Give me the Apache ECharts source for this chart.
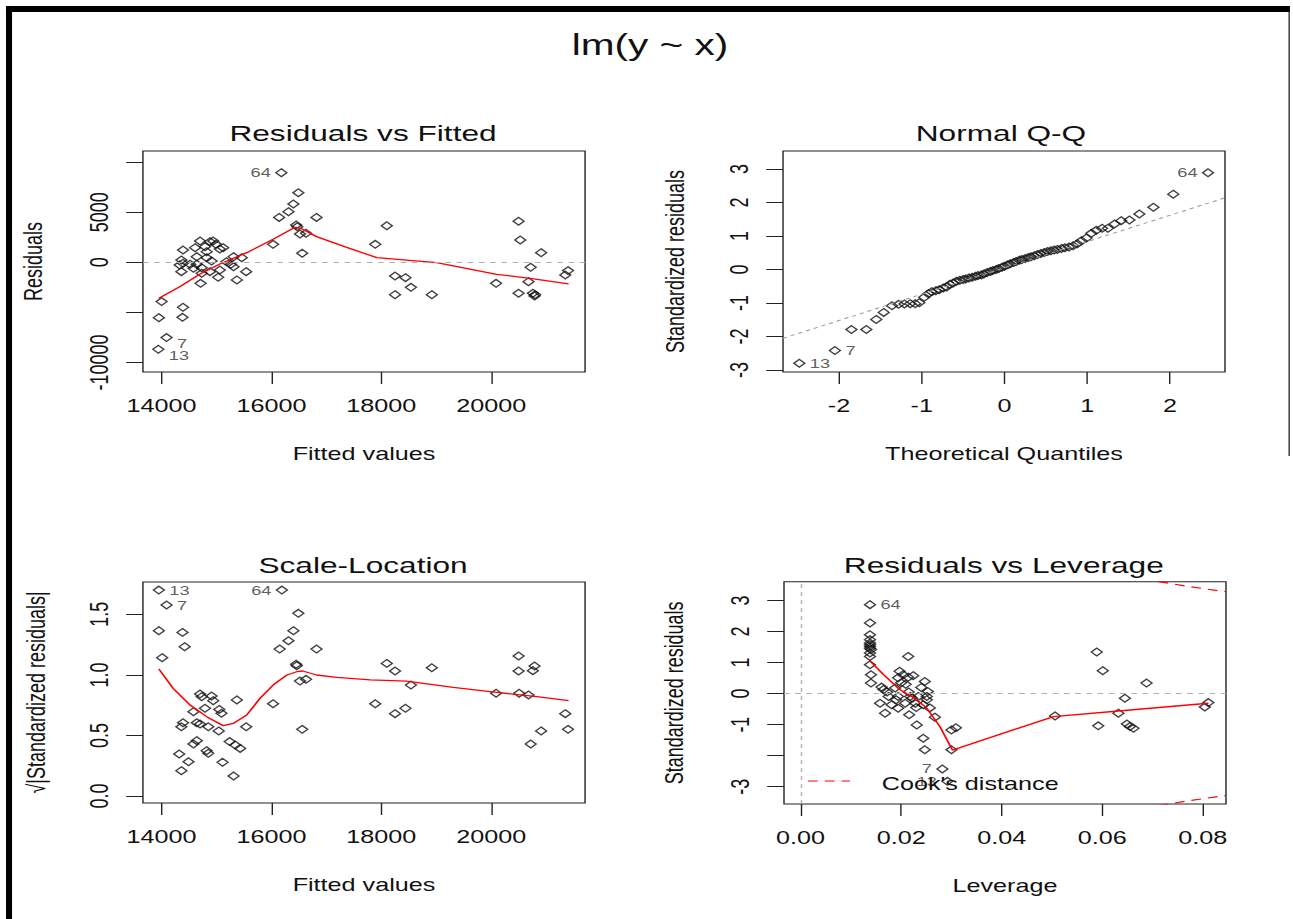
<!DOCTYPE html>
<html><head><meta charset="utf-8">
<script src="https://cdn.jsdelivr.net/npm/echarts@6/dist/echarts.min.js"></script>
<style>
html,body{margin:0;padding:0;background:#fff;overflow:hidden;width:1293px;height:919px}
#main{width:923.57px;height:919px;transform:scaleX(1.4);transform-origin:0 0;}
</style>
</head><body><div id="main"></div>
<script>
// ---------- DATA ----------
const fittedTicks = [14000, 16000, 18000, 20000];
const residTicks = [-10000, -5000, 0, 5000, 10000];
const residLabels = [-10000, 0, 5000];
const quantTicks = [-2, -1, 0, 1, 2];
const stdTicks = [-3, -2, -1, 0, 1, 2, 3];
const stdLabelsLev = [-3, -1, 0, 1, 2, 3];
const sqrtTicks = [0, 0.5, 1, 1.5];
const levTicks = [0, 0.02, 0.04, 0.06, 0.08];

// Residuals vs Fitted
const rvfPts = [
  [16490,6940],[16400,5810],[16310,5050],[16140,4480],[16820,4480],[16450,3720],[16470,3550],[16520,2820],[16630,2890],[16560,900],
  [16030,1790],[18100,3650],[17890,1790],[18250,-1370],[18440,-1530],[18540,-2500],[18250,-3230],[18920,-3230],[20500,4090],[20530,2220],
  [20910,960],[20720,-500],[20680,-1930],[20090,-2100],[20500,-3090],[20760,-3090],[20790,-3360],[20800,-3230],[21400,-830],[21350,-1270],
  [14000,-3920],[13950,-5520],[14390,-4490],[14380,-5490],
  [14390,1230],[14700,2120],[14610,1460],[14790,1560],[14880,2060],[14940,2120],[14990,1790],[14820,1060],[15060,1330],[15120,1460],
  [14640,560],[14820,460],[14360,230],[14330,-270],[14390,-100],[14520,-200],[14640,-200],[14360,-930],[14730,-540],[14880,-930],
  [15060,-770],[15030,-1500],[14710,-2100],[15310,560],[15460,460],[15260,-200],[15310,-440],[15370,-1760],[15540,-930],[14730,-1100],
  [15180,60],[14910,130],[14580,-600]
];
const rvfIds = [['64',16180,8940],['7',14090,-7510],['13',13940,-8680]];
const rvfSmooth = [[13950,-3590],[14330,-2430],[14700,-1170],[15060,-170],[15550,960],[16030,2290],[16430,3490],[16550,3350],
  [16820,2560],[17370,1490],[17920,460],[19010,-40],[20100,-1200],[20710,-1600],[21410,-2160]];

// Normal Q-Q
const qqPts = [
  [-1.85,-1.79],[-1.67,-1.79],[-1.55,-1.49],[-1.46,-1.28],[-1.36,-1.08],[-1.28,-1.04],[-1.21,-1.03],[-1.14,-1.02],[-1.08,-1.02],[-1.03,-0.99],
  [-0.97,-0.83],[-0.92,-0.72],[-0.88,-0.66],[-0.83,-0.63],[-0.79,-0.60],[-0.74,-0.55],[-0.70,-0.52],[-0.66,-0.44],[-0.62,-0.40],[-0.58,-0.35],
  [-0.54,-0.32],[-0.50,-0.30],[-0.47,-0.28],[-0.43,-0.25],[-0.39,-0.23],[-0.35,-0.20],[-0.32,-0.18],[-0.28,-0.16],[-0.25,-0.13],[-0.21,-0.09],
  [-0.17,-0.06],[-0.14,-0.03],[-0.10,0.00],[-0.07,0.03],[-0.03,0.07],[0.00,0.10],[0.04,0.14],[0.07,0.17],[0.11,0.21],[0.14,0.24],
  [0.18,0.28],[0.21,0.30],[0.25,0.33],[0.29,0.36],[0.32,0.38],[0.36,0.41],[0.40,0.45],[0.44,0.48],[0.48,0.51],[0.52,0.54],
  [0.56,0.56],[0.60,0.58],[0.64,0.60],[0.69,0.63],[0.73,0.65],[0.78,0.67],[0.83,0.71],[0.88,0.77],[0.93,0.86],[0.99,0.94],
  [1.05,1.08],[1.11,1.17],[1.18,1.23],[1.25,1.23],[1.33,1.36],[1.41,1.46],[1.51,1.48],[1.63,1.66],[1.80,1.86],[2.04,2.25]
];
const qqIds = [['13',-2.48,-2.80],['7',-2.05,-2.42],['64',2.46,2.89]];
const qqLine = [[-2.677,-2.054],[2.665,2.143]];

// Scale-Location
const slPts = [
  [13950,1.365],[14380,1.351],[14010,1.142],[14420,1.233],[16490,1.508],[16400,1.365],[16310,1.282],[16150,1.213],[16820,1.213],[16450,1.087],
  [16460,1.076],[16520,0.949],[16630,0.963],[16560,0.550],[16030,0.762],[18100,1.095],[18250,1.032],[18920,1.059],[18540,0.916],[17890,0.762],
  [18250,0.680],[18440,0.724],[20500,1.156],[20500,1.032],[20790,1.073],[20760,1.035],[20090,0.848],[20510,0.848],[20680,0.834],[21350,0.680],
  [21400,0.550],[20910,0.537],[20720,0.429],
  [14700,0.842],[14730,0.820],[14910,0.826],[14940,0.787],[15370,0.793],[14580,0.696],[14790,0.724],[15050,0.715],[15090,0.683],[14390,0.605],
  [14360,0.572],[14640,0.605],[14700,0.594],[14850,0.572],[15040,0.537],[15540,0.572],[14640,0.457],[14580,0.429],[14820,0.374],[14850,0.352],
  [15240,0.449],[15340,0.421],[15430,0.393],[14320,0.347],[14490,0.283],[14360,0.209],[15110,0.278],[15310,0.165]
];
const slIds = [['13',13950,1.700],['7',14090,1.577],['64',16190,1.700]];
const slSmooth = [[13950,1.048],[14210,0.889],[14520,0.751],[14820,0.655],[15120,0.581],[15310,0.600],[15550,0.669],[15790,0.806],
  [16030,0.916],[16280,0.999],[16460,1.026],[16570,1.032],[16820,0.999],[17190,0.980],[17800,0.958],[18460,0.949],[19310,0.897],
  [20100,0.856],[20830,0.820],[21410,0.787]];

// Residuals vs Leverage
const rvlPts = [
  [0.0138,2.28],[0.0138,1.90],[0.0138,1.74],[0.0138,1.63],[0.0138,1.52],[0.0140,1.42],[0.0138,1.31],[0.0138,1.20],[0.0138,0.93],[0.0140,0.61],
  [0.0140,0.34],[0.0138,1.46],[0.0138,1.58],
  [0.0214,1.20],[0.0197,0.72],[0.0204,0.61],[0.0214,0.53],[0.0224,0.58],[0.0194,0.51],[0.0247,0.39],[0.0161,0.21],[0.0165,0.13],[0.0188,0.18],
  [0.0175,-0.09],[0.0194,-0.09],[0.0218,-0.09],[0.0234,-0.09],[0.0251,-0.09],[0.0158,-0.31],[0.0181,-0.36],[0.0208,-0.31],[0.0228,-0.31],
  [0.0244,-0.36],[0.0251,-0.20],[0.0168,-0.63],[0.0194,-0.47],[0.0216,-0.68],[0.0267,-0.76],[0.0231,-1.01],[0.0244,-1.44],[0.0247,-1.81],
  [0.0300,-1.17],[0.0309,-1.10],[0.0300,-1.81],[0.0200,0.35],[0.0215,0.05],[0.0222,-0.15],[0.0190,-0.20],[0.0240,0.20],[0.0172,0.05],
  [0.0230,-0.45],[0.0209,0.30],[0.0253,0.07],[0.0257,-0.46],
  [0.0589,1.34],[0.0601,0.74],[0.0688,0.34],[0.0645,-0.15],[0.0632,-0.63],[0.0649,-0.98],[0.0655,-1.06],[0.0662,-1.12],[0.0592,-1.04],
  [0.0506,-0.72],[0.0811,-0.29],[0.0804,-0.43]
];
const rvlIds = [['64',0.0138,2.87],['7',0.0282,-2.43],['13',0.0292,-2.83]];
const rvlSmooth = [[0.0138,1.06],[0.0165,0.61],[0.0197,0.13],[0.0227,-0.15],[0.0251,-0.47],[0.0277,-1.06],[0.0302,-1.82],
  [0.0503,-0.74],[0.0632,-0.56],[0.0811,-0.31]];
const cookUpper = [[0.0712,3.61],[0.0740,3.54],[0.0770,3.46],[0.0800,3.39],[0.0830,3.32],[0.0846,3.29]];
const cookLower = [[0.0712,-3.61],[0.0740,-3.54],[0.0770,-3.46],[0.0800,-3.39],[0.0830,-3.32],[0.0846,-3.29]];
const cookLevel = '0.5';

// ---------- OPTION BUILD ----------
const FONT = '"Liberation Sans", Arial, Helvetica, sans-serif';
const INK = '#111';
const chart = echarts.init(document.getElementById('main'), null, {renderer: 'svg'});

const grids = [
  {left: 102.1, top: 151, width: 315.8, height: 221},
  {left: 559.3, top: 151, width: 315.7, height: 221},
  {left: 102.1, top: 582, width: 315.8, height: 221},
  {left: 560.0, top: 581.7, width: 315.7, height: 222.3}
].map(g => Object.assign({show: true, borderColor: '#222', borderWidth: 1, backgroundColor: 'transparent', containLabel: false}, g));

function xAx(gi, min, max, ticks, labels, fmt, name, gap) {
  return {type: 'value', gridIndex: gi, min, max, name, nameLocation: 'middle', nameGap: gap, position: 'bottom',
    nameTextStyle: {fontFamily: FONT, fontSize: 18, color: INK},
    axisLine: {show: false, onZero: false}, splitLine: {show: false},
    axisTick: {show: true, inside: false, length: 12, customValues: ticks, lineStyle: {color: '#222', width: 1}},
    axisLabel: {show: true, customValues: labels, formatter: fmt, fontFamily: FONT, fontSize: 18, color: INK, margin: 25}};
}
function yAx(gi, min, max, ticks, labels, fmt, name, gap) {
  return {type: 'value', gridIndex: gi, min, max, name, nameLocation: 'middle', nameGap: gap, nameRotate: 90, position: 'left',
    nameTextStyle: {fontFamily: FONT, fontSize: 18, color: INK},
    axisLine: {show: false, onZero: false}, splitLine: {show: false},
    axisTick: {show: true, inside: false, length: 12, customValues: ticks, lineStyle: {color: '#222', width: 1}},
    axisLabel: {show: true, customValues: labels, formatter: fmt, rotate: 90, fontFamily: FONT, fontSize: 18, color: INK, margin: 22}};
}
const plain = v => String(v);
const f1 = v => v.toFixed(1);
const f2 = v => v.toFixed(2);

function pointData(pts, ids, sides, offsets) {
  const d = pts.map(p => ({value: p}));
  ids.forEach(([id, x, y], i) => d.push({value: [x, y], label: {show: true, formatter: id, position: sides[i],
    distance: 3, offset: offsets ? offsets[i] : [0, 0], fontFamily: FONT, fontSize: 13, color: '#333'}}));
  return d;
}
function scatter(gi, data, markLines) {
  const s = {type: 'scatter', xAxisIndex: gi, yAxisIndex: gi, data, symbol: 'diamond', symbolSize: 7.8,
    itemStyle: {color: 'rgba(0,0,0,0)', borderColor: '#111', borderWidth: 1.2}, emphasis: {disabled: true}, z: 3};
  if (markLines) s.markLine = {silent: true, symbol: 'none', label: {show: false}, animation: false,
    lineStyle: {color: '#b0b0b0', type: [4, 4], width: 1}, data: markLines};
  return s;
}
function redLine(gi, data) {
  return {type: 'line', xAxisIndex: gi, yAxisIndex: gi, data, showSymbol: false, symbol: 'none',
    lineStyle: {color: '#ff0000', width: 1.3}, emphasis: {disabled: true}, z: 4};
}
function cookLine(gi, data) {
  const d = data.map(p => ({value: p}));
  d[d.length - 1] = {value: data[data.length - 1], symbol: 'none',
    label: {show: true, formatter: cookLevel, position: 'right', distance: 5, color: '#ff0000', fontFamily: FONT, fontSize: 13}};
  return {type: 'line', xAxisIndex: gi, yAxisIndex: gi, data: d, showSymbol: false, symbol: 'none', clip: true,
    lineStyle: {color: '#ff0000', width: 1.2, type: [7, 5]}, emphasis: {disabled: true}, z: 4};
}

const titleStyle = {fontFamily: FONT, fontSize: 22.6, fontWeight: 'normal', color: INK};
const option = {
  animation: false,
  backgroundColor: '#fff',
  title: [
    {text: 'lm(y ~ x)', left: 464.3, top: 30, padding: 0, textAlign: 'center', textStyle: {fontFamily: FONT, fontSize: 29, fontWeight: 'normal', color: INK}},
    {text: 'Residuals vs Fitted', left: 259.3, top: 122, padding: 0, textAlign: 'center', textStyle: titleStyle},
    {text: 'Normal Q-Q', left: 715, top: 122, padding: 0, textAlign: 'center', textStyle: titleStyle},
    {text: 'Scale-Location', left: 259.3, top: 554, padding: 0, textAlign: 'center', textStyle: titleStyle},
    {text: 'Residuals vs Leverage', left: 717, top: 554, padding: 0, textAlign: 'center', textStyle: titleStyle}
  ],
  grid: grids,
  xAxis: [
    xAx(0, 13660, 21710, fittedTicks, fittedTicks, plain, 'Fitted values', 73),
    xAx(1, -2.677, 2.665, quantTicks, quantTicks, plain, 'Theoretical Quantiles', 73),
    xAx(2, 13660, 21710, fittedTicks, fittedTicks, plain, 'Fitted values', 73),
    xAx(3, -0.0033, 0.0846, levTicks, levTicks, f2, 'Leverage', 73)
  ],
  yAxis: [
    yAx(0, -10940, 11100, residTicks, residLabels, plain, 'Residuals', 69),
    yAx(1, -3.06, 3.54, stdTicks, stdTicks, plain, 'Standardized residuals', 68),
    yAx(2, -0.058, 1.767, sqrtTicks, sqrtTicks, f1, '\u221A|Standardized residuals|', 67),
    yAx(3, -3.56, 3.61, stdTicks, stdLabelsLev, plain, 'Standardized residuals', 69)
  ],
  series: [
    scatter(0, pointData(rvfPts, rvfIds, ['left', 'right', 'right'], [[0, 0], [0, 6], [0, 6]]), [{yAxis: 0}]),
    redLine(0, rvfSmooth),
    scatter(1, pointData(qqPts, qqIds, ['right', 'right', 'left'])),
    {type: 'line', xAxisIndex: 1, yAxisIndex: 1, data: qqLine, showSymbol: false, symbol: 'none',
      lineStyle: {color: '#9a9a9a', width: 1, type: [3, 3]}, emphasis: {disabled: true}, z: 4},
    scatter(2, pointData(slPts, slIds, ['right', 'right', 'left'])),
    redLine(2, slSmooth),
    scatter(3, pointData(rvlPts, rvlIds, ['right', 'left', 'left']), [{yAxis: 0}, {xAxis: 0}]),
    redLine(3, rvlSmooth),
    cookLine(3, cookUpper),
    cookLine(3, cookLower)
  ],
  graphic: [
    {type: 'rect', shape: {x: 4.3, y: 6, width: 917, height: 6}, style: {fill: '#000'}, silent: true},
    {type: 'rect', shape: {x: 4.3, y: 6, width: 4.3, height: 913}, style: {fill: '#000'}, silent: true},
    {type: 'rect', shape: {x: 920.4, y: 6, width: 0.8, height: 450}, style: {fill: '#000'}, silent: true},
    {type: 'line', shape: {x1: 577.1, y1: 781, x2: 607.1, y2: 781}, style: {stroke: '#ff0000', lineWidth: 1.2, lineDash: [7, 5]}, silent: true, z: 10},
    {type: 'text', x: 629.8, y: 784, style: {text: "Cook's distance", fontFamily: FONT, fontSize: 18, fill: INK, textVerticalAlign: 'middle', verticalAlign: 'middle'}, silent: true, z: 10}
  ]
};
chart.setOption(option);
</script></body></html>
